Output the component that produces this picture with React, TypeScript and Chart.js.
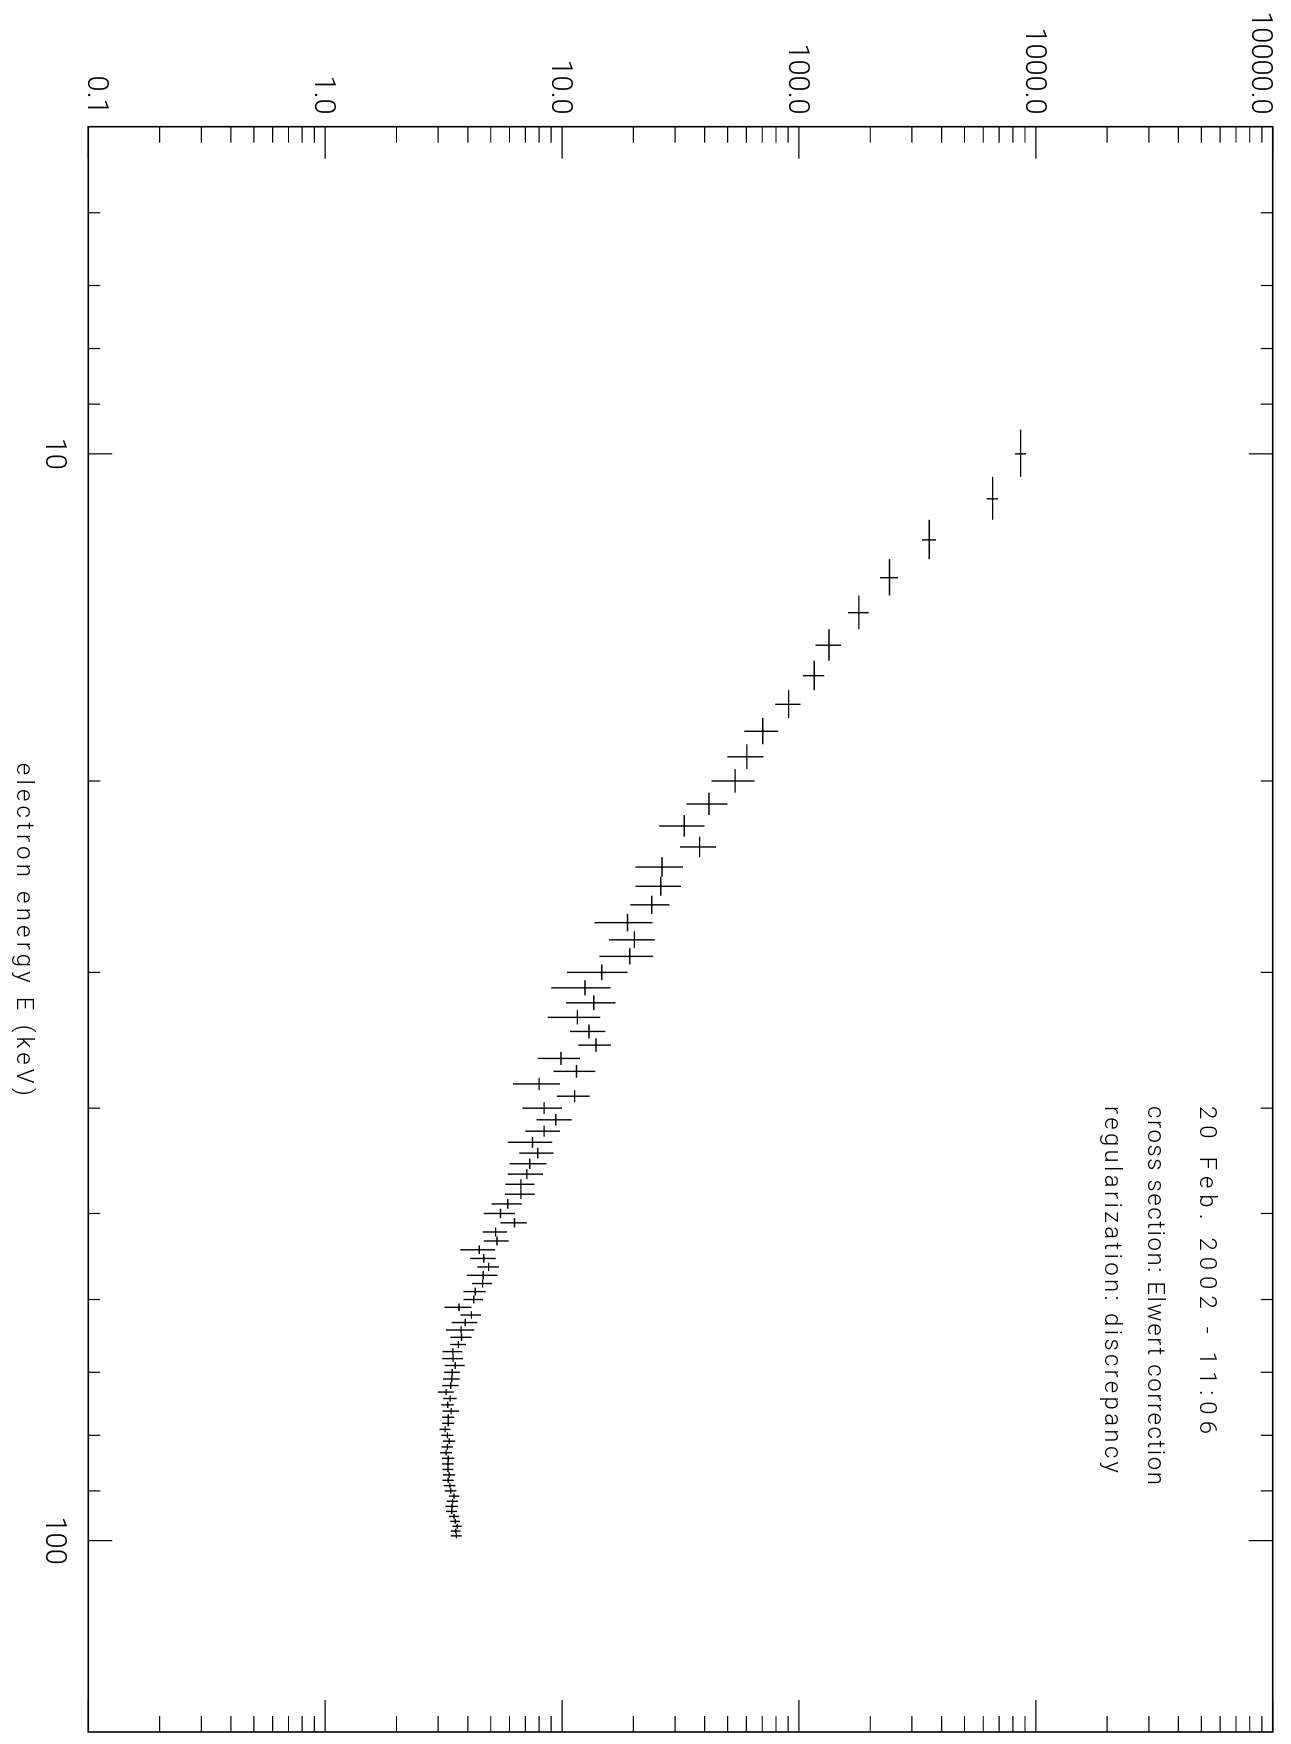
import { useEffect, useRef } from "react";
import { Chart, registerables } from "chart.js";

Chart.register(...registerables);

// Electron energy bins (keV) and the half width of each bin
const energies = [
  10, 11, 12, 13, 14, 15, 16, 17, 18, 19, 20, 21, 22, 23, 24, 25, 26, 27, 28, 29,
  30, 31, 32, 33, 34, 35, 36, 37, 38, 39, 40, 41, 42, 43, 44, 45, 46, 47, 48, 49,
  50, 51, 52, 53, 54, 55, 56, 57, 58, 59, 60, 61, 62, 63, 64, 65, 66, 67, 68, 69,
  70, 71, 72, 73, 74, 75, 76, 77, 78, 79, 80, 81, 82, 83, 84, 85, 86, 87, 88, 89,
  90, 91, 92, 93, 94, 95, 96, 97, 98, 99,
];
const energyHalfWidth = 0.5;

// Regularized electron flux and its 1-sigma uncertainty
const flux = [
  863, 657, 355, 241, 179, 134, 116, 90.5, 70.3, 60.3,
  53.8, 41.7, 32.8, 38.1, 26.4, 26.1, 23.9, 18.9, 20.2, 19.3,
  14.7, 12.5, 13.6, 11.6, 13.0, 13.9, 9.9, 11.5, 8.0, 11.3,
  8.4, 9.4, 8.4, 7.5, 7.9, 7.3, 7.1, 6.7, 6.7, 5.9,
  5.5, 6.3, 5.24, 5.31, 4.47, 4.67, 4.9, 4.65, 4.62, 4.3,
  4.24, 3.67, 4.14, 3.9, 3.75, 3.76, 3.65, 3.46, 3.47, 3.54,
  3.44, 3.42, 3.39, 3.24, 3.37, 3.29, 3.4, 3.31, 3.31, 3.21,
  3.28, 3.34, 3.28, 3.24, 3.31, 3.3, 3.3, 3.34, 3.31, 3.36,
  3.39, 3.5, 3.45, 3.43, 3.42, 3.5, 3.54, 3.61, 3.56, 3.58,
];
const fluxError = [
  47, 36, 24, 21, 18, 16.5, 12, 11, 11.5, 10.5,
  11.1, 8.2, 7.1, 6.6, 6.0, 5.7, 4.5, 5.2, 4.4, 4.9,
  4.2, 3.5, 3.2, 2.9, 2.2, 2.2, 2.0, 2.3, 1.8, 1.8,
  1.6, 1.6, 1.4, 1.6, 1.3, 1.3, 1.2, 0.95, 0.97, 0.86,
  0.83, 0.8, 0.61, 0.64, 0.75, 0.58, 0.52, 0.69, 0.45, 0.46,
  0.4, 0.48, 0.41, 0.48, 0.51, 0.39, 0.28, 0.33, 0.35, 0.34,
  0.26, 0.28, 0.27, 0.25, 0.22, 0.2, 0.27, 0.2, 0.2, 0.17,
  0.19, 0.2, 0.18, 0.19, 0.2, 0.19, 0.17, 0.2, 0.18, 0.19,
  0.19, 0.18, 0.19, 0.21, 0.18, 0.17, 0.17, 0.16, 0.17, 0.19,
];

// Axis ticks and labels
const energyMajorTicks = [10, 100];
const energyMinorTicks = [6, 7, 8, 9, 20, 30, 40, 50, 60, 70, 80, 90];
const energyTickLabels = ["10", "100"];
const fluxMajorTicks = [0.1, 1, 10, 100, 1000, 10000];
const fluxMinorTicks = [-1, 0, 1, 2, 3].flatMap((d) =>
  [2, 3, 4, 5, 6, 7, 8, 9].map((k) => k * Math.pow(10, d))
);
const fluxTickLabels = ["0.1", "1.0", "10.0", "100.0", "1000.0", "10000.0"];

const energyTitle = "electron energy E (keV)";
const noteLines = [
  "20 Feb. 2002 - 11:06",
  "cross section: Elwert correction",
  "regularization: discrepancy",
];

const FONT = "Roboto, 'DejaVu Sans', sans-serif";
const W = 1744;
const H = 1291;

// Draws text from x so that it spans the given width (plotter-style wide lettering)
function spacedText(ctx: CanvasRenderingContext2D, text: string, x: number, y: number, width: number) {
  const c = ctx as any;
  c.letterSpacing = "0px";
  const w = ctx.measureText(text).width;
  const gap = Math.max(0, (width - w) / Math.max(1, text.length - 1));
  c.letterSpacing = `${gap}px`;
  ctx.fillText(text, x, y);
  c.letterSpacing = "0px";
}

const spectrumPlugin = {
  id: "spectrumDecor",
  afterDatasetsDraw(chart: any) {
    const { ctx, chartArea: a, scales } = chart;
    const xs = scales.x;
    const ys = scales.y;
    ctx.save();

    // error crosses
    ctx.strokeStyle = "#000";
    ctx.lineWidth = 1.4;
    energies.forEach((e, i) => {
      const px = xs.getPixelForValue(e);
      const py = ys.getPixelForValue(flux[i]);
      ctx.beginPath();
      ctx.moveTo(xs.getPixelForValue(e - energyHalfWidth), py);
      ctx.lineTo(xs.getPixelForValue(e + energyHalfWidth), py);
      ctx.moveTo(px, ys.getPixelForValue(flux[i] - fluxError[i]));
      ctx.lineTo(px, ys.getPixelForValue(flux[i] + fluxError[i]));
      ctx.stroke();
    });

    // frame
    ctx.lineWidth = 1.6;
    ctx.strokeRect(a.left, a.top, a.right - a.left, a.bottom - a.top);

    // inward ticks on all four sides
    ctx.lineWidth = 1.2;
    const xTick = (v: number, len: number) => {
      const p = xs.getPixelForValue(v);
      ctx.beginPath();
      ctx.moveTo(p, a.bottom);
      ctx.lineTo(p, a.bottom - len);
      ctx.moveTo(p, a.top);
      ctx.lineTo(p, a.top + len);
      ctx.stroke();
    };
    const yTick = (v: number, len: number) => {
      const p = ys.getPixelForValue(v);
      ctx.beginPath();
      ctx.moveTo(a.left, p);
      ctx.lineTo(a.left + len, p);
      ctx.moveTo(a.right, p);
      ctx.lineTo(a.right - len, p);
      ctx.stroke();
    };
    energyMinorTicks.forEach((v) => xTick(v, 12));
    energyMajorTicks.forEach((v) => xTick(v, 24));
    fluxMinorTicks.forEach((v) => yTick(v, 16));
    fluxMajorTicks.forEach((v) => yTick(v, 32));

    // tick labels
    ctx.fillStyle = "#000";
    const labelSize = 29;
    const cap = labelSize * 0.71;
    ctx.font = `300 ${labelSize}px ${FONT}`;
    ctx.textBaseline = "alphabetic";
    ctx.textAlign = "right";
    fluxMajorTicks.forEach((v, i) => {
      const p = ys.getPixelForValue(v);
      const shift = i === 0 ? 0 : i === fluxMajorTicks.length - 1 ? cap : cap / 2;
      ctx.fillText(fluxTickLabels[i], a.left - 12, p + shift);
    });
    ctx.textAlign = "center";
    energyMajorTicks.forEach((v, i) => {
      ctx.fillText(energyTickLabels[i], xs.getPixelForValue(v), a.bottom + 42);
    });

    // axis title
    ctx.textAlign = "left";
    ctx.font = `300 24px ${FONT}`;
    const titleWidth = 333;
    spacedText(ctx, energyTitle, (a.left + a.right) / 2 - titleWidth / 2, a.bottom + 71, titleWidth);

    // run notes
    const noteBase = [a.top + 73, a.top + 125, a.top + 168];
    const noteWidth = [328, 379, 367];
    noteLines.forEach((t, i) => spacedText(ctx, t, 1106, noteBase[i], noteWidth[i]));

    ctx.restore();
  },
};

export default function App() {
  const canvasRef = useRef<HTMLCanvasElement | null>(null);

  useEffect(() => {
    const canvas = canvasRef.current;
    if (!canvas) return;
    const chart = new Chart(canvas, {
      type: "scatter",
      data: {
        datasets: [
          {
            data: energies.map((e, i) => ({ x: e, y: flux[i] })),
            pointRadius: 0,
            showLine: false,
          },
        ],
      },
      options: {
        animation: false,
        responsive: false,
        devicePixelRatio: 1,
        layout: { padding: { left: 0, right: 12, top: 18.3, bottom: 0 } },
        plugins: { legend: { display: false }, tooltip: { enabled: false } },
        scales: {
          x: {
            type: "logarithmic",
            min: 5,
            max: 150,
            ticks: { display: false },
            grid: { display: false },
            border: { display: false },
            afterFit: (s: any) => {
              s.height = 88.3;
            },
          },
          y: {
            type: "logarithmic",
            min: 0.1,
            max: 10000,
            ticks: { display: false },
            grid: { display: false },
            border: { display: false },
            afterFit: (s: any) => {
              s.width = 126.7;
            },
          },
        },
      },
      plugins: [spectrumPlugin],
    });
    return () => chart.destroy();
  }, []);

  return (
    <div
      style={{
        position: "absolute",
        left: 0,
        top: 0,
        width: H,
        height: W,
        overflow: "hidden",
        background: "#fff",
      }}
    >
      <div
        style={{
          position: "absolute",
          left: 0,
          top: 0,
          width: W,
          height: H,
          transformOrigin: "0 0",
          transform: `translate(${H}px, 0px) rotate(90deg)`,
        }}
      >
        <canvas
          ref={canvasRef}
          width={W}
          height={H}
          style={{ display: "block", width: W, height: H }}
        />
      </div>
    </div>
  );
}
